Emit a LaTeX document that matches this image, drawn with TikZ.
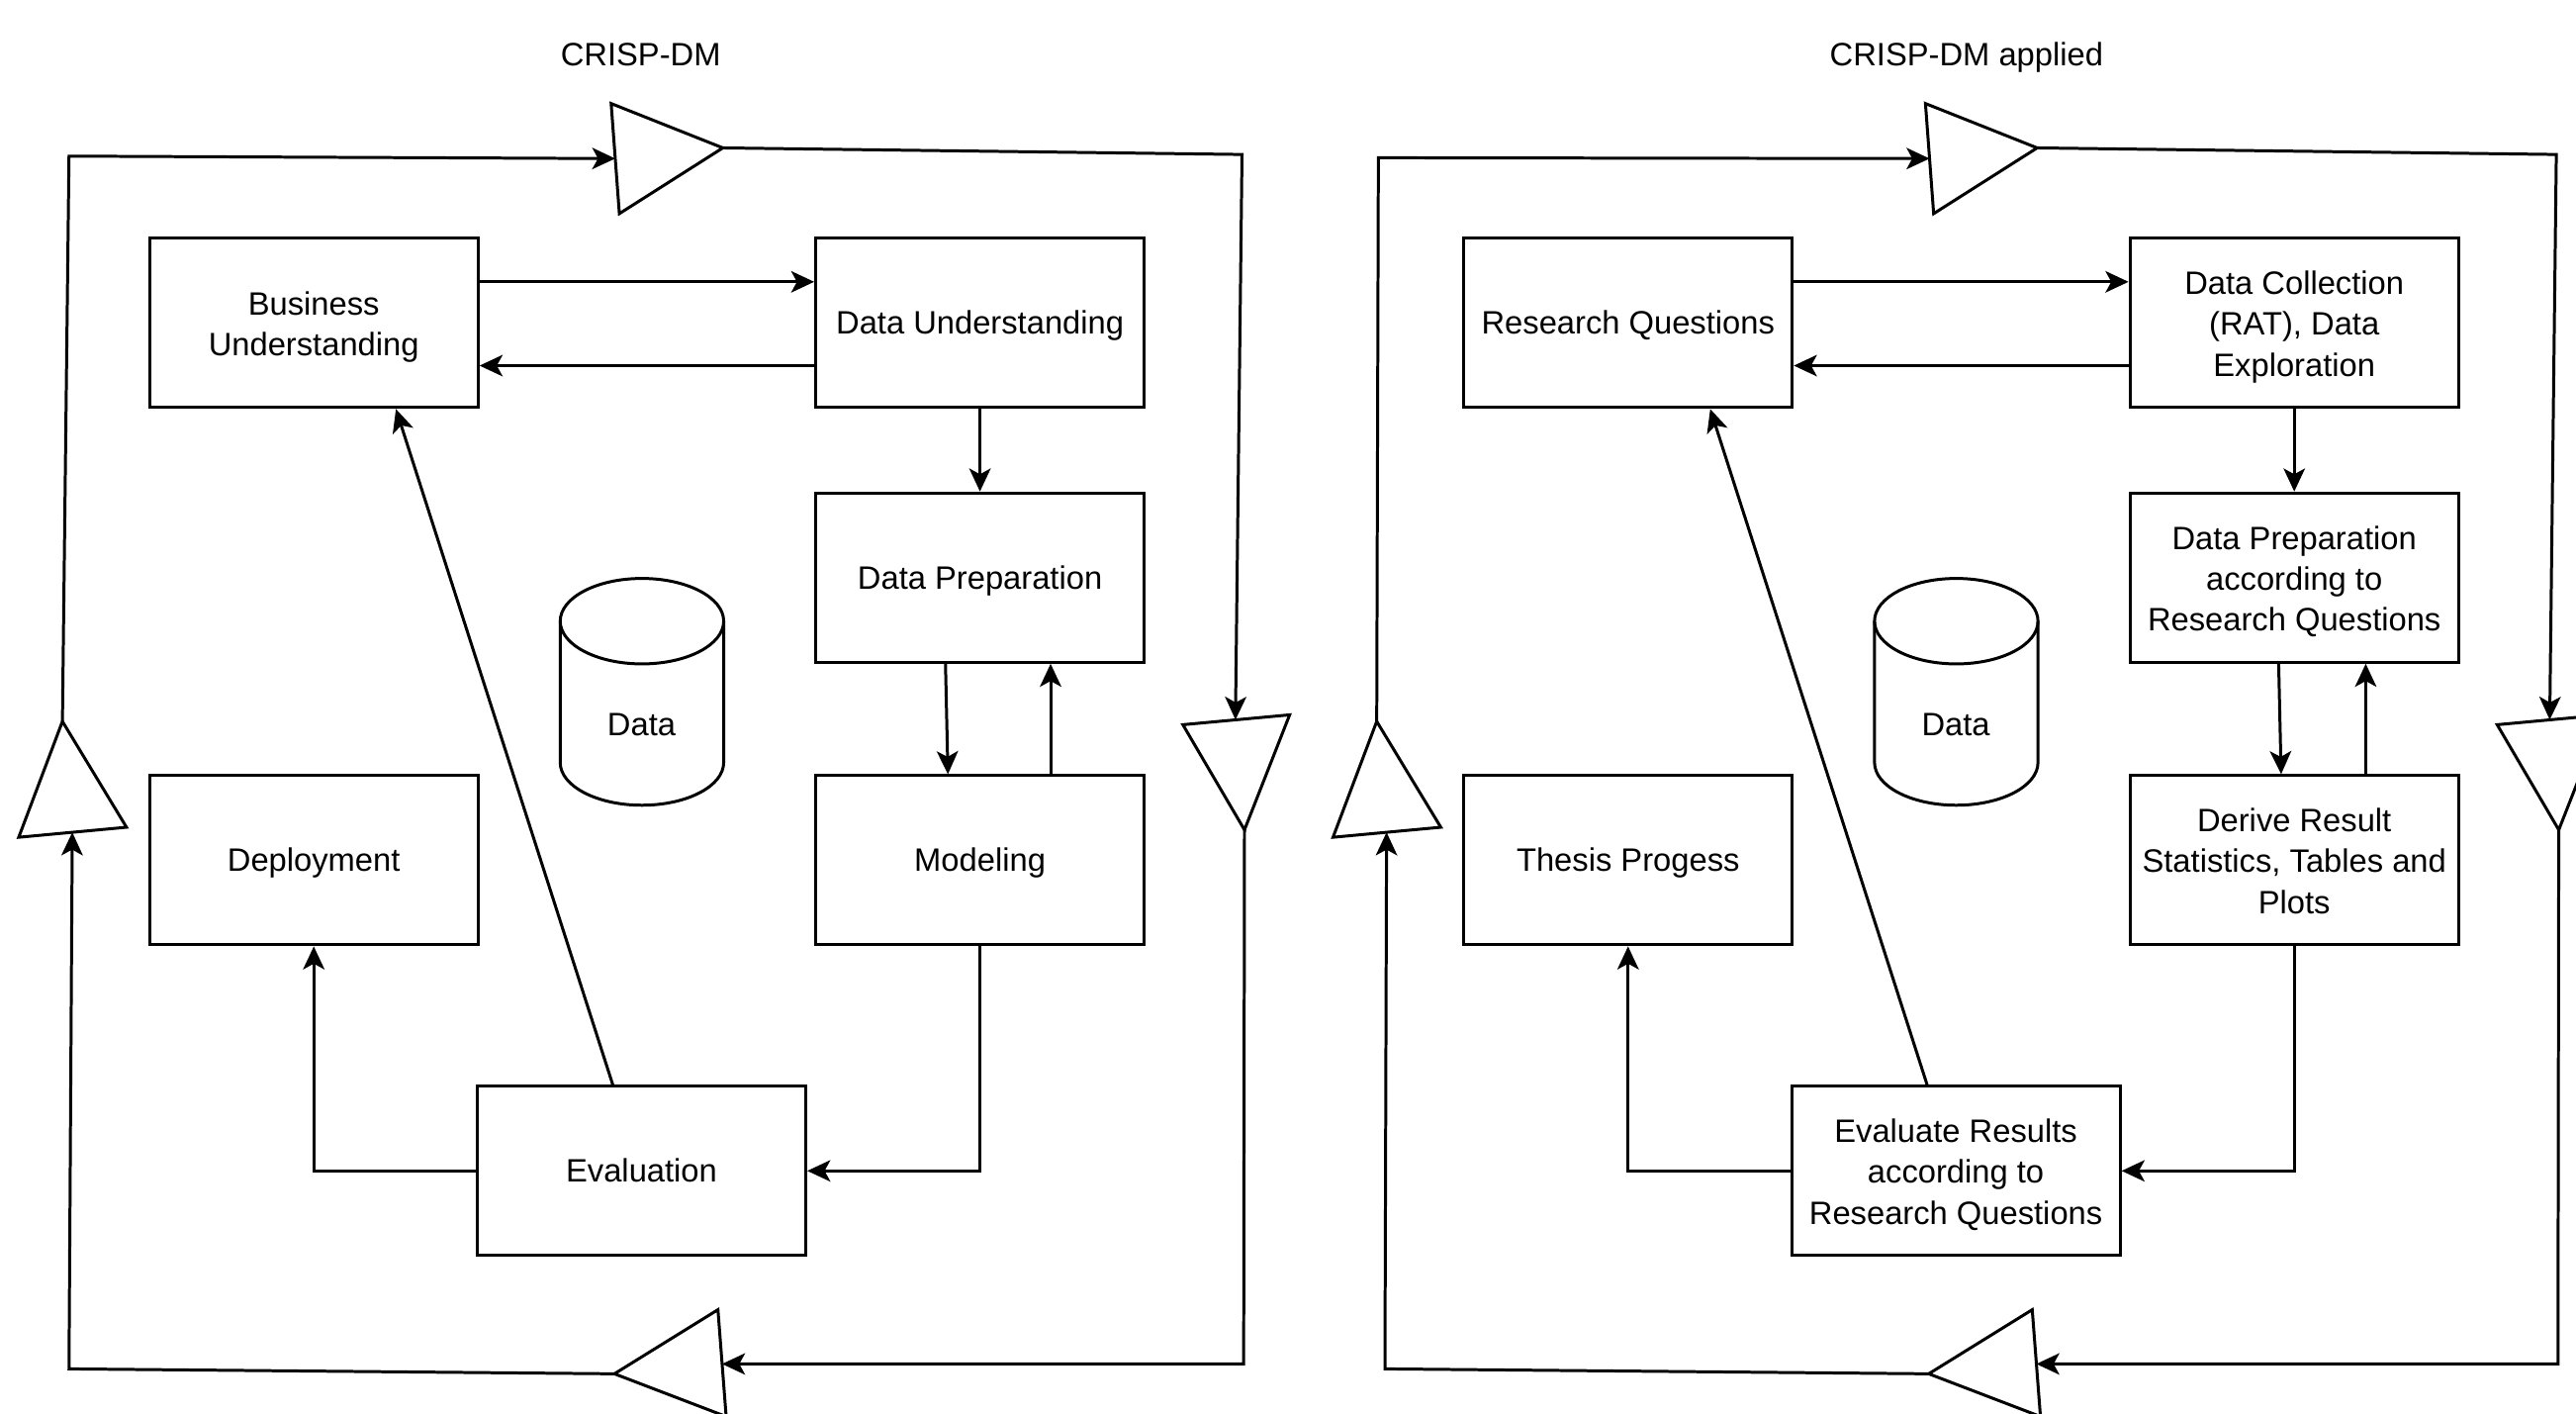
\documentclass[tikz,border=0pt]{standalone}
\usepackage{fontspec}
\setmainfont{Liberation Sans}
\usetikzlibrary{arrows.meta}
\newcommand{\fsz}{\fontsize{19.7}{24.8}\selectfont}
\newcommand{\linestrut}{\rule[-5.6pt]{0pt}{24.8pt}}
\newcommand{\mtext}[1]{\raisebox{-2.6pt}[\height][\depth]{\begin{tabular}{@{}c@{}}#1\end{tabular}}}
\tikzset{
  boxbase/.style={draw, line width=1.8pt, minimum width=200pt, minimum height=103pt, inner sep=2pt, align=center, font=\fsz},
  box/.style={boxbase, execute at begin node={\linestrut}, execute at end node={\linestrut}},
  mbox/.style={boxbase},
  conn/.style={line width=1.8pt, -{Stealth[length=14pt,width=13pt,inset=3.5pt]}},
  plainline/.style={line width=1.8pt},
  tri/.style={line width=1.8pt, line join=miter},
  lbl/.style={font=\fsz, inner sep=0pt, execute at begin node={\linestrut}}
}
\begin{document}
\begin{tikzpicture}[x=1pt,y=-1pt]
\useasboundingbox (0,0) rectangle (1568,860);
\clip (0,0) rectangle (1568,860);
\fill[white] (0,0) rectangle (1568,860);

% ================= LEFT PANEL =================
\node[lbl] (title1) at (390,33) {CRISP-DM};

\node[mbox] (bu)  at (191,196.5)   {\mtext{Business\\Understanding}};
\node[box] (du)  at (596.5,196.5) {Data Understanding};
\node[box] (dp)  at (596.5,351.5) {Data Preparation};
\node[box] (mod) at (596.5,523.5) {Modeling};
\node[box] (dep) at (191,523.5)   {Deployment};
\node[box] (ev)  at (390.5,712.5) {Evaluation};

% cylinder
\draw[plainline] (341,378) -- (341,464) arc[start angle=180, end angle=360, x radius=49.75pt, y radius=26pt] -- (440.5,378);
\draw[plainline] (390.75,378) ellipse[x radius=49.75pt, y radius=26pt];
\node[lbl] (data1) at (390.5,441) {Data};

% connectors
\draw[conn] ([yshift=25pt]bu.east) -- ([yshift=25pt]du.west);
\draw[conn] ([yshift=-26pt]du.west) -- ([yshift=-26pt]bu.east);
\draw[conn] (du.south) -- (dp.north);
\draw[conn] ([xshift=-21pt]dp.south) -- ([xshift=-19.5pt]mod.north);
\draw[conn] ([xshift=43pt]mod.north) -- ([xshift=43pt]dp.south);
\draw[conn] (mod.south) |- (ev.east);
\draw[conn] (ev.west) -| (dep.south);
\draw[conn] ([xshift=-17.5pt]ev.north) -- ([xshift=50pt]bu.south);

% triangles
\coordinate (t1a) at (372,63);   \coordinate (t1b) at (377,130);  \coordinate (t1c) at (440,90);
\coordinate (t1in) at (374.5,96.5);
\coordinate (t2a) at (720,441);  \coordinate (t2b) at (785,435);  \coordinate (t2c) at (757.5,505);
\coordinate (t2in) at (752,438);
\coordinate (t3a) at (437,797);  \coordinate (t3b) at (442,862);  \coordinate (t3c) at (374,836);
\coordinate (t3in) at (439.5,830);
\coordinate (t4a) at (38,439);   \coordinate (t4b) at (11.4,509.5); \coordinate (t4c) at (77,503.4);
\coordinate (t4in) at (44,506.5);
\draw[tri] (t1a) -- (t1b) -- (t1c) -- cycle;
\draw[tri] (t2a) -- (t2b) -- (t2c) -- cycle;
\draw[tri] (t3a) -- (t3b) -- (t3c) -- cycle;
\draw[tri] (t4a) -- (t4b) -- (t4c) -- cycle;

\coordinate (c1) at (42,95);  \coordinate (c2) at (756,94);
\coordinate (c3) at (757,830); \coordinate (c4) at (42,833);
\draw[conn] (t4a) -- (c1) -- (t1in);
\draw[conn] (t1c) -- (c2) -- (t2in);
\draw[conn] (t2c) -- (c3) -- (t3in);
\draw[conn] (t3c) -- (c4) -- (t4in);

% ================= RIGHT PANEL =================
\node[lbl] (title2) at (1197,33) {CRISP-DM applied};

\node[box] (rq)  at (991,196.5)    {Research Questions};
\node[mbox] (dc)  at (1396.5,196.5) {\mtext{Data Collection\\(RAT), Data\\Exploration}};
\node[mbox] (dp2) at (1396.5,351.5) {\mtext{Data Preparation\\according to\\Research Questions}};
\node[mbox] (der) at (1396.5,523.5) {\mtext{Derive Result\\Statistics, Tables and\\Plots}};
\node[box] (th)  at (991,523.5)    {Thesis Progess};
\node[mbox] (ev2) at (1190.5,712.5) {\mtext{Evaluate Results\\according to\\Research Questions}};

% cylinder
\draw[plainline] (1141,378) -- (1141,464) arc[start angle=180, end angle=360, x radius=49.75pt, y radius=26pt] -- (1240.5,378);
\draw[plainline] (1190.75,378) ellipse[x radius=49.75pt, y radius=26pt];
\node[lbl] (data2) at (1190.5,441) {Data};

% connectors
\draw[conn] ([yshift=25pt]rq.east) -- ([yshift=25pt]dc.west);
\draw[conn] ([yshift=-26pt]dc.west) -- ([yshift=-26pt]rq.east);
\draw[conn] (dc.south) -- (dp2.north);
\draw[conn] ([xshift=-9.5pt]dp2.south) -- ([xshift=-8pt]der.north);
\draw[conn] ([xshift=43.5pt]der.north) -- ([xshift=43.5pt]dp2.south);
\draw[conn] (der.south) |- (ev2.east);
\draw[conn] (ev2.west) -| (th.south);
\draw[conn] ([xshift=-17.5pt]ev2.north) -- ([xshift=50pt]rq.south);

% triangles
\coordinate (u1a) at (1172,63);   \coordinate (u1b) at (1177,130);  \coordinate (u1c) at (1240,90);
\coordinate (u1in) at (1174.5,96.5);
\coordinate (u2a) at (1520,441);  \coordinate (u2b) at (1585,435);  \coordinate (u2c) at (1557.5,505);
\coordinate (u2in) at (1552,438);
\coordinate (u3a) at (1237,797);  \coordinate (u3b) at (1242,862);  \coordinate (u3c) at (1174,836);
\coordinate (u3in) at (1239.5,830);
\coordinate (u4a) at (838,439);   \coordinate (u4b) at (811.4,509.5); \coordinate (u4c) at (877,503.4);
\coordinate (u4in) at (844,506.5);
\draw[tri] (u1a) -- (u1b) -- (u1c) -- cycle;
\draw[tri] (u2a) -- (u2b) -- (u2c) -- cycle;
\draw[tri] (u3a) -- (u3b) -- (u3c) -- cycle;
\draw[tri] (u4a) -- (u4b) -- (u4c) -- cycle;

\coordinate (d1) at (839,96);  \coordinate (d2) at (1556,94);
\coordinate (d3) at (1557,830); \coordinate (d4) at (843,833);
\draw[conn] (u4a) -- (d1) -- (u1in);
\draw[conn] (u1c) -- (d2) -- (u2in);
\draw[conn] (u2c) -- (d3) -- (u3in);
\draw[conn] (u3c) -- (d4) -- (u4in);
\end{tikzpicture}
\end{document}
